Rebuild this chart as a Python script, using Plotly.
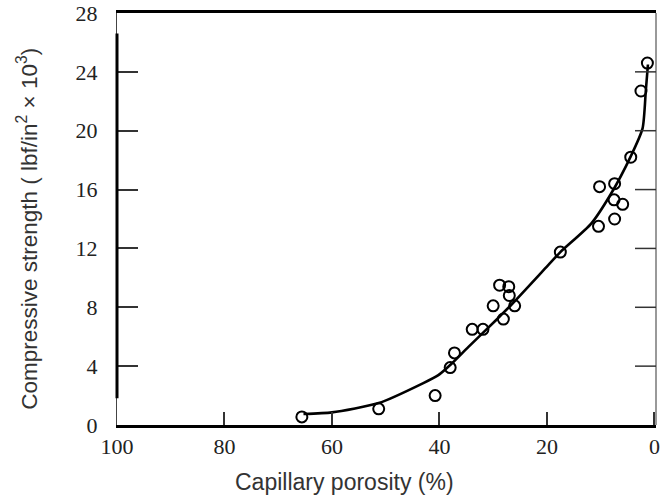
import plotly.graph_objects as go

# Measured specimens: capillary porosity (%) vs compressive strength (lbf/in^2 x 10^3)
porosity = [1.3, 2.5, 4.4, 10.2, 7.4, 7.5, 5.9, 7.4, 10.4, 17.5,
            28.8, 27.1, 27.0, 30.0, 26.0, 28.1, 33.9, 31.9, 37.2, 38.0,
            65.6, 51.3, 40.8]
strength = [24.6, 22.7, 18.2, 16.2, 16.4, 15.3, 15.0, 14.0, 13.5, 11.75,
            9.5, 9.4, 8.8, 8.1, 8.1, 7.2, 6.5, 6.5, 4.9, 3.9,
            0.55, 1.1, 2.0]

# Fitted trend curve
fit_porosity = [65.3, 60.0, 51.3, 43.0, 40.2, 37.7, 34.6, 29.3, 26.7, 19.8,
                17.5, 11.8, 8.1, 4.4, 2.2, 1.6, 1.2]
fit_strength = [0.75, 0.86, 1.49, 2.85, 3.39, 4.18, 5.31, 7.19, 8.14, 10.85,
                11.75, 13.67, 15.7, 18.26, 20.16, 22.7, 24.5]

x_ticks = [100, 80, 60, 40, 20, 0]
y_ticks = [0, 4, 8, 12, 16, 20, 24, 28]
y_right_ticks = [4, 8, 12, 16, 20, 24]
y_range = [0, 28]

serif = "Liberation Serif"
sans = "Liberation Sans"

W, H = 661, 495
M = dict(l=117, r=5, t=13, b=70)
plot_w = W - M["l"] - M["r"]
right_tick_len = 21 / plot_w  # in paper units

fig = go.Figure()

fig.add_trace(go.Scatter(
    x=fit_porosity, y=fit_strength, mode="lines",
    line=dict(color="black", width=2.6, shape="spline", smoothing=0.6),
    hoverinfo="skip", showlegend=False,
))
fig.add_trace(go.Scatter(
    x=porosity, y=strength, mode="markers",
    marker=dict(symbol="circle-open", size=11, color="black",
                line=dict(width=2, color="black")),
    showlegend=False,
))

# frame pieces: heavy middle of the left axis, thin right border with inward ticks
shapes = [
    dict(type="line", xref="paper", yref="paper", x0=0, x1=0,
         y0=0.065, y1=0.95, line=dict(color="black", width=3)),
    dict(type="line", xref="paper", yref="paper", x0=1, x1=1,
         y0=0, y1=1, line=dict(color="#555", width=1.2)),
]
for v in y_right_ticks:
    shapes.append(dict(type="line", xref="paper", yref="y",
                       x0=1 - right_tick_len, x1=1, y0=v, y1=v,
                       line=dict(color="#333", width=1.5)))

fig.update_layout(
    width=W, height=H,
    margin=M,
    paper_bgcolor="white", plot_bgcolor="white",
    xaxis=dict(
        range=[100, -0.3], tickvals=x_ticks, ticktext=[str(v) for v in x_ticks],
        ticks="inside", ticklen=13, tickwidth=1.5, tickcolor="#333",
        showline=True, linewidth=3, linecolor="black", mirror=True,
        showgrid=False, zeroline=False, automargin=False,
        tickfont=dict(family=serif, size=22, color="#222"),
        ticklabelstandoff=0, ticklabeloverflow="allow",
    ),
    yaxis=dict(
        range=y_range, tickvals=y_ticks, ticktext=[str(v) for v in y_ticks],
        ticks="inside", ticklen=21, tickwidth=1.5, tickcolor="#333",
        showline=True, linewidth=1.2, linecolor="#444",
        showgrid=False, zeroline=False, automargin=False,
        tickfont=dict(family=serif, size=22, color="#222"),
        ticklabelstandoff=14, ticklabeloverflow="allow",
    ),
    shapes=shapes,
    annotations=[
        dict(text="Capillary porosity (%)", xref="paper", yref="paper",
             x=0.422, y=-0.139, xanchor="center", yanchor="middle",
             showarrow=False, font=dict(family=sans, size=23, color="#333")),
        dict(text="Compressive strength ( lbf/in<sup>2</sup> \u00d7 10<sup>3</sup>)",
             xref="paper", yref="paper", x=-0.166, y=0.475, textangle=-90,
             xanchor="center", yanchor="middle", showarrow=False,
             font=dict(family=sans, size=22.5, color="#333")),
    ],
)

fig.write_html("out.html")
